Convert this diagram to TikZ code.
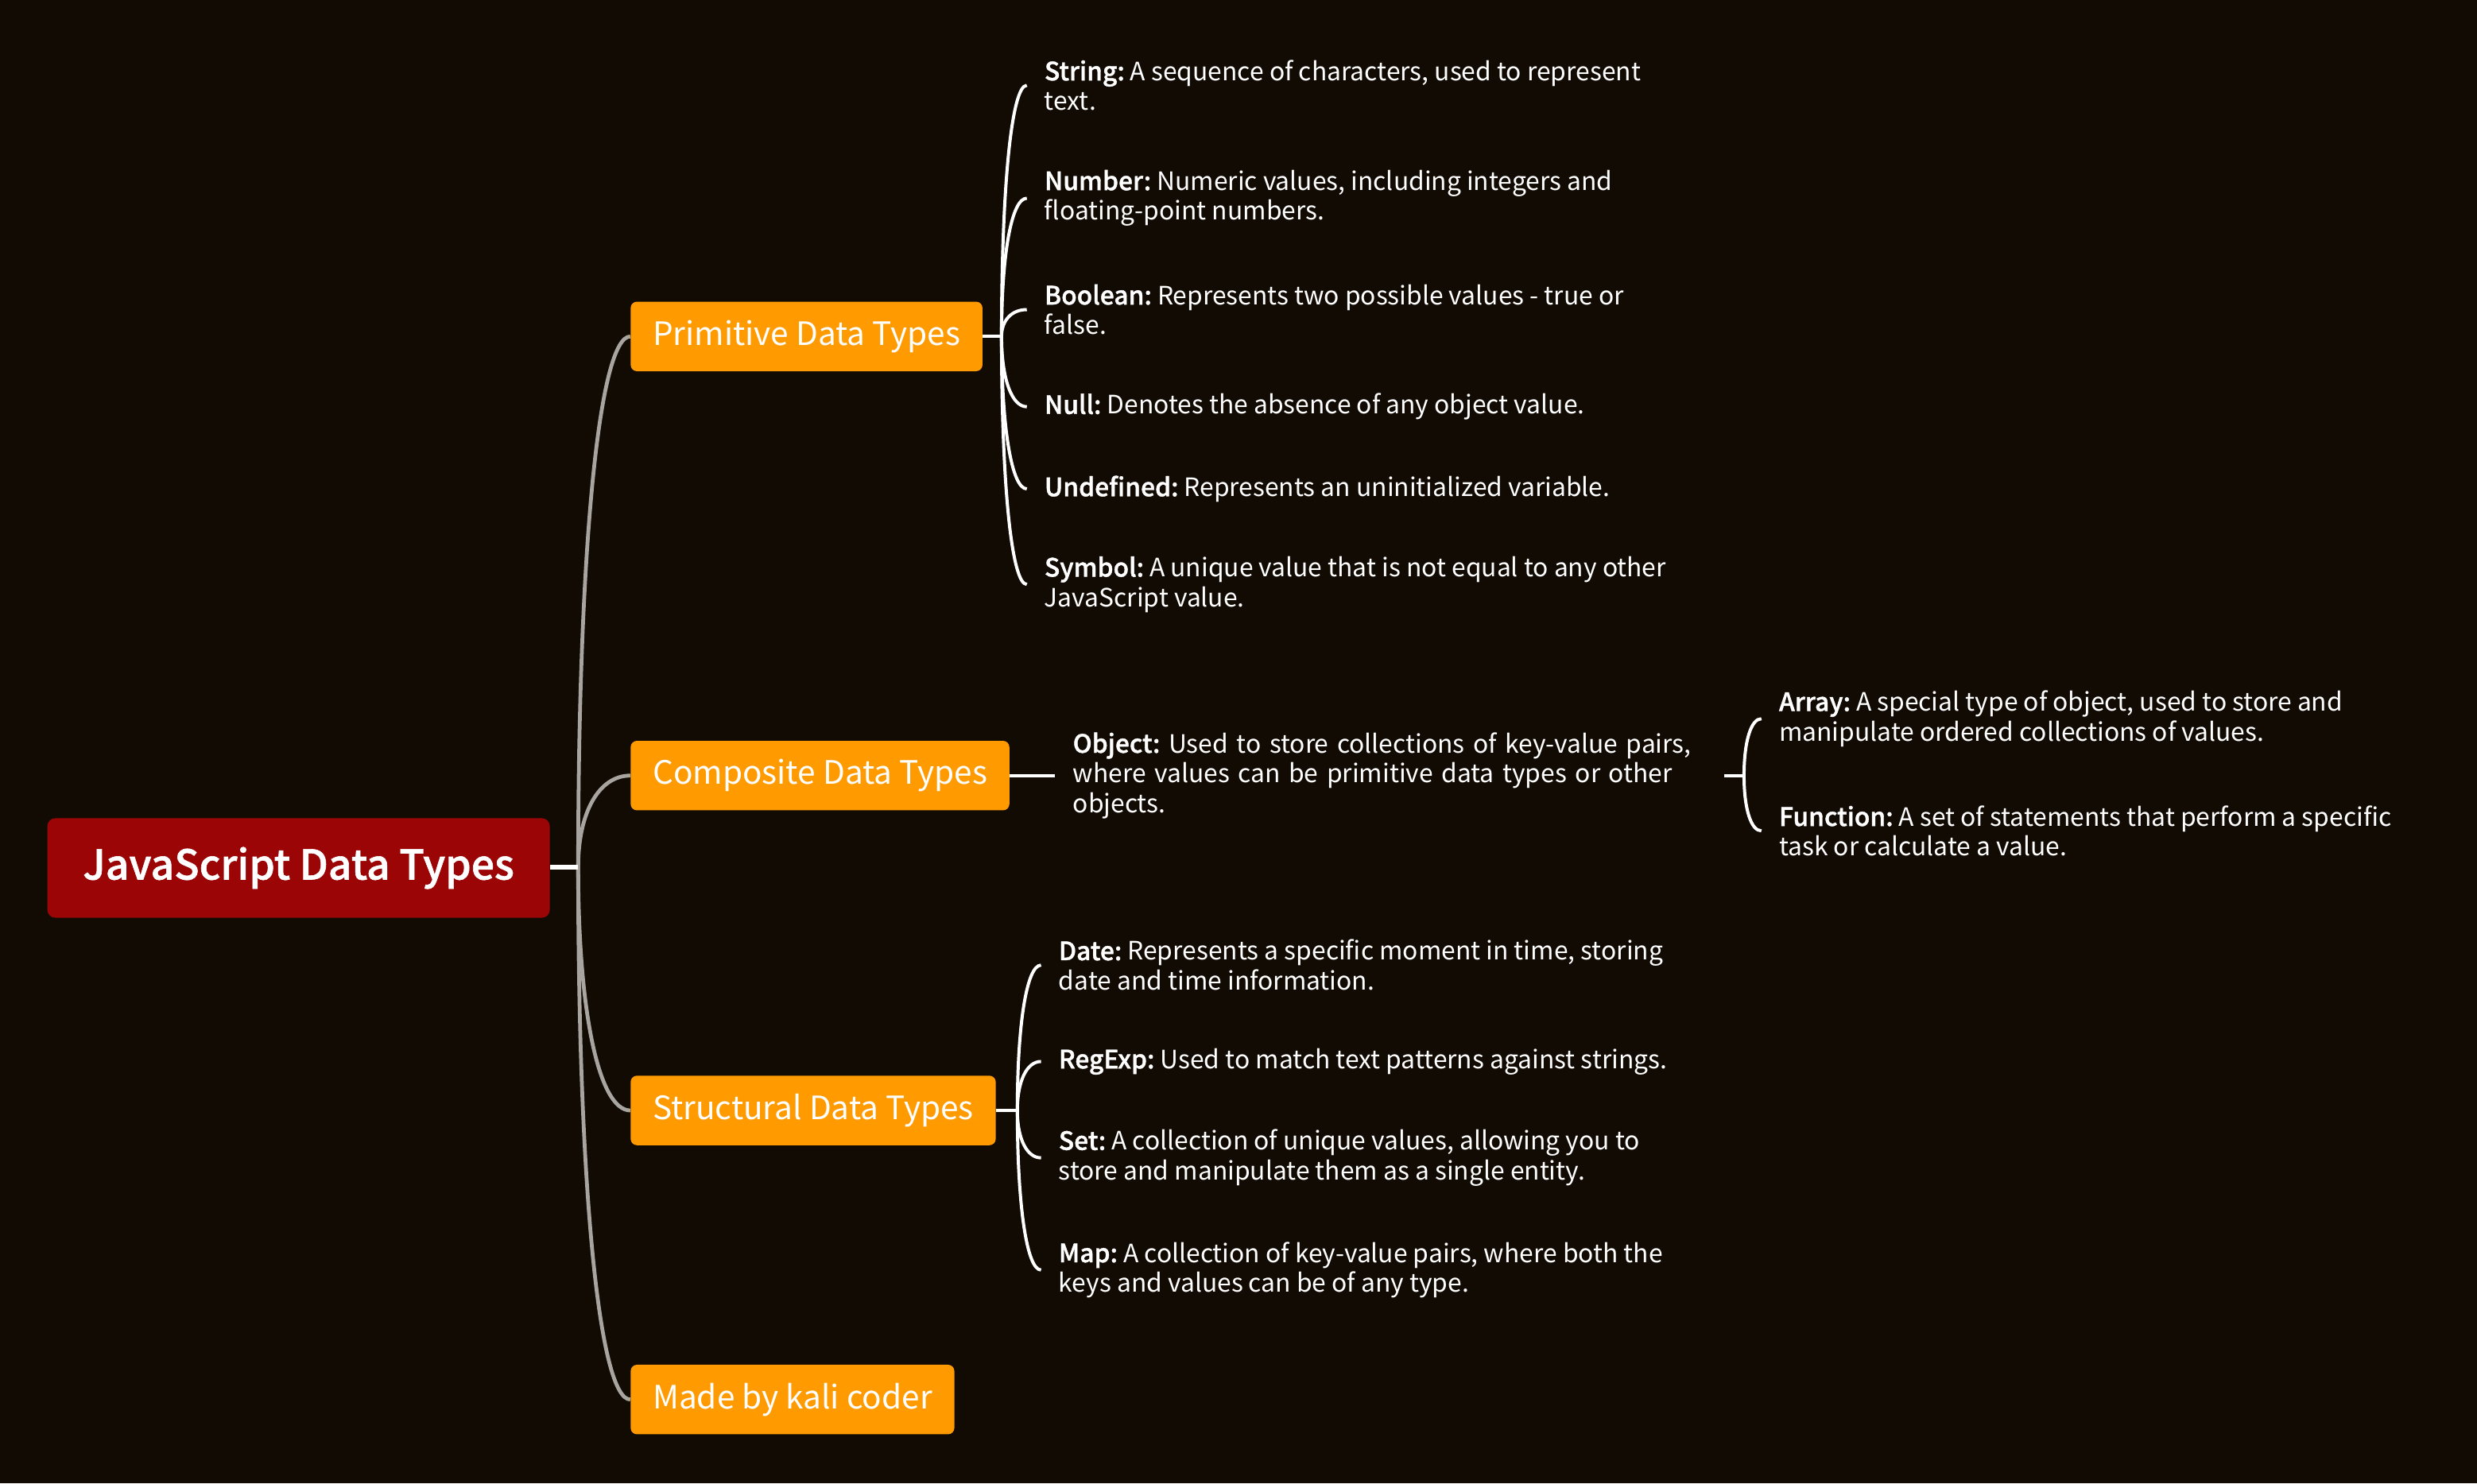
\documentclass[tikz,border=0pt]{standalone}
\usepackage{fontspec}
\setmainfont{Noto Sans CJK SC}[BoldFont={* Medium}, BoldFeatures={FakeBold=1.2}]
\usetikzlibrary{calc}
\definecolor{bg}{HTML}{120B04}
\definecolor{rootred}{HTML}{9C0505}
\definecolor{orangebox}{HTML}{FF9A00}
\definecolor{greyline}{HTML}{A8A4A0}
\newcommand\mmcurve[3]{\draw[#1] (#2) .. controls ($(#2)!0.6!(#2 |- #3)$) and ($(#2 |- #3)!0.4!(#3)$) .. (#3);}
\frenchspacing
\begin{document}
\begin{tikzpicture}[x=1pt,y=-1pt,
  rootbox/.style={fill=rootred, text=white, rounded corners=5pt, minimum width=318pt, minimum height=63pt, inner sep=0pt, font=\fontsize{26}{30}\selectfont\bfseries},
  catbox/.style={fill=orangebox, text=white, rounded corners=4pt, anchor=west, minimum height=44pt, inner xsep=14pt, inner ysep=0pt, font=\fontsize{20.4}{24}\selectfont},
  leaf/.style={anchor=west, text=white, align=left, inner xsep=11pt, inner ysep=2pt, font=\fontsize{16}{19}\selectfont},
  greylink/.style={draw=greyline, line width=2.4pt},
  whitelink/.style={draw=white, line width=2pt},
  rootlink/.style={draw=white, line width=3pt}
]
\fill[bg] (0,0) rectangle (1568,939);
\useasboundingbox (0,0) rectangle (1568,939);

% root
\node[rootbox] (root) at (189,549.5) {JavaScript Data Types};
\coordinate (rj) at (366,549);

% categories
\node[catbox] (prim) at (399,213) {Primitive Data Types};
\node[catbox] (comp) at (399,491) {Composite Data Types};
\node[catbox] (struct) at (399,703) {Structural Data Types};
\node[catbox] (made) at (399,886) {Made by kali coder};

% grey links
\mmcurve{greylink}{rj}{prim.west}
\mmcurve{greylink}{rj}{comp.west}
\mmcurve{greylink}{rj}{struct.west}
\mmcurve{greylink}{rj}{made.west}
\draw[rootlink] (root.east |- rj) -- (rj);

% primitive leaves
\node[leaf] (str) at (650,54) {\textbf{String:} A sequence of characters, used to represent\\text.};
\node[leaf] (num) at (650,125.5) {\textbf{Number:} Numeric values, including integers and\\floating-point numbers.};
\node[leaf] (bool) at (650,196) {\textbf{Boolean:} Represents two possible values - true or\\false.};
\node[leaf] (null) at (650,257.5) {\textbf{Null:} Denotes the absence of any object value.};
\node[leaf] (undef) at (650,309.5) {\textbf{Undefined:} Represents an uninitialized variable.};
\node[leaf] (sym) at (650,370) {\textbf{Symbol:} A unique value that is not equal to any other\\JavaScript value.};
\coordinate (pj) at (634,213);
\draw[whitelink] (prim.east) -- (pj);
\foreach \n in {str,num,bool,null,undef,sym}{\mmcurve{whitelink}{pj}{\n.west}}

% composite
\node[leaf, text width=401pt] (obj) at (668,491) {\textbf{Object:} Used to store collections of key-value pairs,\\where values can be primitive data types or other\\objects.};
\draw[whitelink] (comp.east) -- (obj.west |- comp.east);
\coordinate (oj) at (1104,491);
\draw[whitelink] (obj.east |- oj) -- (oj);
\node[leaf] (arr) at (1115,455) {\textbf{Array:} A special type of object, used to store and\\manipulate ordered collections of values.};
\node[leaf] (func) at (1115,526) {\textbf{Function:} A set of statements that perform a specific\\task or calculate a value.};
\mmcurve{whitelink}{oj}{arr.west}
\mmcurve{whitelink}{oj}{func.west}

% structural
\node[leaf] (date) at (659,611) {\textbf{Date:} Represents a specific moment in time, storing\\date and time information.};
\node[leaf] (regexp) at (659,672) {\textbf{RegExp:} Used to match text patterns against strings.};
\node[leaf] (set) at (659,733) {\textbf{Set:} A collection of unique values, allowing you to\\store and manipulate them as a single entity.};
\node[leaf] (map) at (659,804) {\textbf{Map:} A collection of key-value pairs, where both the\\keys and values can be of any type.};
\coordinate (sj) at (644,703);
\draw[whitelink] (struct.east) -- (sj);
\foreach \n in {date,regexp,set,map}{\mmcurve{whitelink}{sj}{\n.west}}
\end{tikzpicture}
\end{document}
